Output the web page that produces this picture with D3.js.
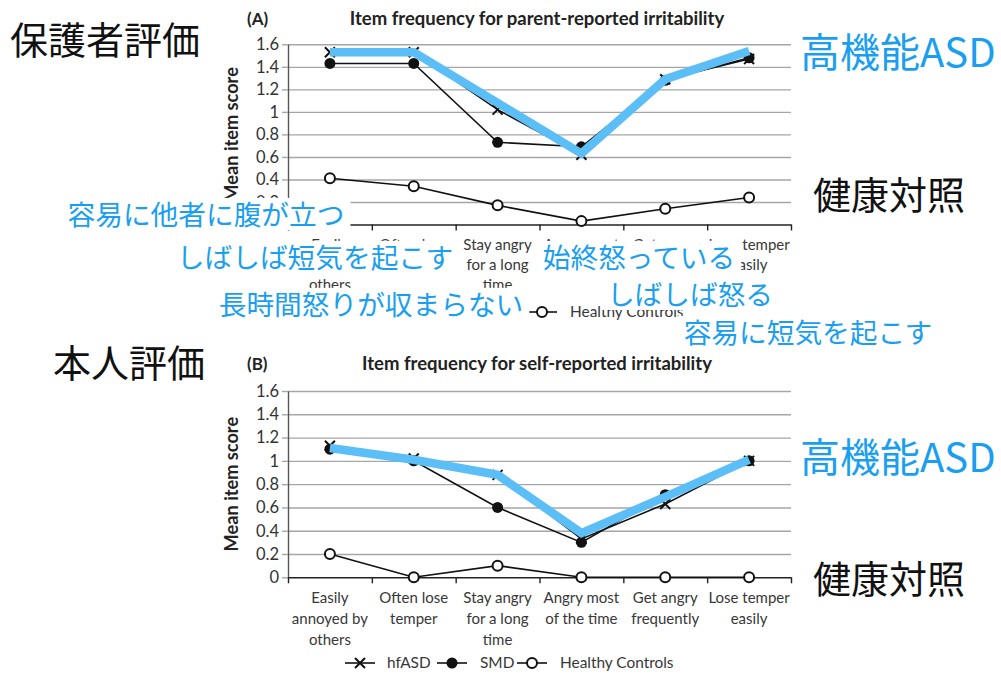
<!DOCTYPE html>
<html>
<head>
<meta charset="utf-8">
<script src="https://cdn.jsdelivr.net/npm/d3@7"></script>
<style>
  html, body { margin: 0; padding: 0; background: #fff; }
  svg { display: block; }
</style>
</head>
<body>
<svg id="chart" width="1001" height="673"></svg>
<script>
// ---- data ----------------------------------------------------------------
const categoryLines = [
  ["Easily", "annoyed by", "others"],
  ["Often lose", "temper"],
  ["Stay angry", "for a long", "time"],
  ["Angry most", "of the time"],
  ["Get angry", "frequently"],
  ["Lose temper", "easily"]
];
const yTickValues = [0, 0.2, 0.4, 0.6, 0.8, 1, 1.2, 1.4, 1.6];
const seriesNames = ["hfASD", "SMD", "Healthy Controls"];

// (A) parent-reported
const parentHfASD   = [1.53, 1.53, 1.02, 0.62, 1.29, 1.47];
const parentSMD     = [1.43, 1.43, 0.73, 0.69, 1.28, 1.48];
const parentHealthy = [0.41, 0.34, 0.17, 0.03, 0.14, 0.24];
const parentHighlight = [1.53, 1.53, null, 0.63, 1.29, 1.54];

// (B) self-reported
const selfHfASD   = [1.13, 1.02, 0.88, 0.33, 0.63, 1.00];
const selfSMD     = [1.10, 1.00, 0.60, 0.30, 0.71, 1.00];
const selfHealthy = [0.20, 0.00, 0.10, 0.00, 0.00, 0.00];
const selfHighlight = [1.11, 1.01, 0.88, 0.38, 0.69, 1.01];

// Japanese annotation texts
const panelHeadings = ["保護者評価", "本人評価"];
const groupLabels = ["高機能ASD", "健康対照"];
const itemNotes = [
  "容易に他者に腹が立つ",
  "しばしば短気を起こす",
  "長時間怒りが収まらない",
  "始終怒っている",
  "しばしば怒る",
  "容易に短気を起こす"
];

// ---- layout ----------------------------------------------------------------
const FONT = "Lato, 'Open Sans', 'Liberation Sans', sans-serif";
const JP = "'Noto Sans CJK JP', 'Noto Sans', sans-serif";
const BLUE_LINE = "#5bbef7";
const BLUE_TEXT = "#1a9ff0";
const X0 = 288, X1 = 791;
// legend: swatch start and text start of each item, relative to the legend origin
const legendSwatchX = [0, 92, 172];
const legendTextX = [42, 135, 215];

const panels = [
  {
    letter: "(A)", title: "Item frequency for parent-reported irritability",
    series: [parentHfASD, parentSMD, parentHealthy], highlight: parentHighlight,
    yTop: 44.3, yBottom: 224.5, titleY: 24.5, labelY: 250, lineH: 20,
    legendY: 317, legendX: 355
  },
  {
    letter: "(B)", title: "Item frequency for self-reported irritability",
    series: [selfHfASD, selfSMD, selfHealthy], highlight: selfHighlight,
    yTop: 391, yBottom: 577.3, titleY: 370, labelY: 603, lineH: 21,
    legendY: 668, legendX: 345
  }
];

const svg = d3.select("#chart");
const x = d3.scaleBand().domain(d3.range(categoryLines.length)).range([X0, X1]);
const xEdge = d3.scaleLinear().domain([0, categoryLines.length]).range([X0, X1]);
const cx = i => x(i) + x.bandwidth() / 2;
const fmt = d => String(+d.toFixed(1));

function drawMarker(g, kind, mx, my) {
  if (kind === 0) {
    g.append("path")
      .attr("d", `M${mx - 5},${my - 5}L${mx + 5},${my + 5}M${mx - 5},${my + 5}L${mx + 5},${my - 5}`)
      .attr("stroke", "#111").attr("stroke-width", 2).attr("fill", "none");
  } else if (kind === 1) {
    g.append("circle").attr("cx", mx).attr("cy", my).attr("r", 5.5).attr("fill", "#111");
  } else {
    g.append("circle").attr("cx", mx).attr("cy", my).attr("r", 5)
      .attr("fill", "#fff").attr("stroke", "#111").attr("stroke-width", 2);
  }
}

panels.forEach(p => {
  const g = svg.append("g");
  const y = d3.scaleLinear().domain([0, 1.6]).range([p.yBottom, p.yTop]);

  // horizontal gridlines
  g.append("g")
    .attr("transform", `translate(${X0},0)`)
    .call(d3.axisLeft(y).tickValues(yTickValues.filter(v => v > 0))
      .tickSize(-(X1 - X0)).tickFormat(""))
    .call(a => a.select(".domain").remove())
    .call(a => a.selectAll("line").attr("stroke", "#a6a6a6").attr("stroke-width", 1.4));

  // y axis
  g.append("g")
    .attr("transform", `translate(${X0},0)`)
    .call(d3.axisLeft(y).tickValues(yTickValues).tickSize(6).tickSizeOuter(0).tickPadding(3).tickFormat(fmt))
    .call(a => a.select(".domain").attr("stroke", "#555").attr("stroke-width", 1.4))
    .call(a => a.selectAll("line").attr("stroke", "#a6a6a6").attr("stroke-width", 1.4))
    .call(a => a.selectAll("text").attr("font-family", FONT).attr("font-size", 16.5).attr("fill", "#333"));

  // x axis with ticks at category boundaries
  g.append("g")
    .attr("transform", `translate(0,${p.yBottom})`)
    .call(d3.axisBottom(xEdge).tickValues(d3.range(categoryLines.length + 1))
      .tickSize(6).tickSizeOuter(0).tickFormat(""))
    .call(a => a.select(".domain").attr("stroke", "#222").attr("stroke-width", 1.6))
    .call(a => a.selectAll("line").attr("stroke", "#222").attr("stroke-width", 1.4));

  // category labels
  const labels = g.append("g").attr("font-family", FONT).attr("font-size", 15)
    .attr("fill", "#383838").attr("text-anchor", "middle");
  categoryLines.forEach((lines, i) => {
    const t = labels.append("text").attr("x", cx(i)).attr("y", p.labelY);
    lines.forEach((ln, k) => t.append("tspan")
      .attr("x", cx(i)).attr("dy", k === 0 ? 0 : p.lineH).text(ln));
  });

  // series lines, then markers (controls at the back)
  const line = d3.line().x((d, i) => cx(i)).y(d => y(d));
  p.series.forEach(vals => {
    g.append("path").datum(vals).attr("d", line)
      .attr("fill", "none").attr("stroke", "#111").attr("stroke-width", 1.6);
  });
  [2, 1, 0].forEach(s => p.series[s].forEach((v, i) => drawMarker(g, s, cx(i), y(v))));

  // highlighted hfASD trace
  const hl = p.highlight.map((v, i) => [i, v]).filter(d => d[1] != null);
  g.append("path").datum(hl)
    .attr("d", d3.line().x(d => cx(d[0])).y(d => y(d[1])))
    .attr("fill", "none").attr("stroke", BLUE_LINE).attr("stroke-width", 8.5)
    .attr("stroke-linejoin", "miter");

  // legend
  const lg = g.append("g").attr("font-family", FONT).attr("font-size", 15.4).attr("fill", "#383838");
  seriesNames.forEach((name, s) => {
    const lx = p.legendX + legendSwatchX[s];
    lg.append("line").attr("x1", lx).attr("x2", lx + 30)
      .attr("y1", p.legendY - 5).attr("y2", p.legendY - 5)
      .attr("stroke", "#111").attr("stroke-width", 1.6);
    drawMarker(lg, s, lx + 15, p.legendY - 5);
    lg.append("text").attr("x", p.legendX + legendTextX[s]).attr("y", p.legendY).text(name);
  });

  // title, panel letter, y label
  g.append("text").attr("x", 247).attr("y", p.titleY)
    .attr("font-family", FONT).attr("font-weight", 700).attr("font-size", 17)
    .attr("fill", "#222").text(p.letter);
  g.append("text").attr("x", 537).attr("y", p.titleY).attr("text-anchor", "middle")
    .attr("font-family", FONT).attr("font-weight", 700).attr("font-size", 18.5)
    .attr("fill", "#222").text(p.title);
  g.append("text")
    .attr("transform", `translate(238,${(p.yTop + p.yBottom) / 2}) rotate(-90)`)
    .attr("text-anchor", "middle")
    .attr("font-family", FONT).attr("font-weight", 700).attr("font-size", 18.2)
    .attr("fill", "#222").text("Mean item score");
});

// ---- annotations -----------------------------------------------------------
const notesLayer = svg.append("g");
function note(text, xPos, baseline, size, color, boxed, anchor) {
  const grp = notesLayer.append("g");
  const rect = grp.append("rect").attr("fill", "#fff");
  const t = grp.append("text").attr("x", xPos).attr("y", baseline)
    .attr("text-anchor", anchor || "start")
    .attr("font-family", JP).attr("font-size", size).attr("fill", color).text(text);
  if (boxed) {
    const b = t.node().getBBox();
    rect.attr("x", b.x - 6).attr("y", baseline - 0.98 * size)
      .attr("width", b.width + 12).attr("height", 1.16 * size);
  } else {
    rect.remove();
  }
}

// item translations over panel (A): centre x, baseline
const notePos = [[206, 225], [315, 268], [371, 315], [639, 268], [690, 305], [808, 343]];
itemNotes.forEach((txt, i) => note(txt, notePos[i][0], notePos[i][1], 27.7, BLUE_TEXT, true, "middle"));

// panel headings and group labels
note(panelHeadings[0], 10, 54, 38, "#111", false);
note(panelHeadings[1], 53, 377, 38, "#111", false);
note(groupLabels[0], 800, 67, 40, BLUE_TEXT, false);
note(groupLabels[1], 813, 209, 38, "#111", false);
note(groupLabels[0], 800, 472, 40, BLUE_TEXT, false);
note(groupLabels[1], 813, 593, 38, "#111", false);
</script>
</body>
</html>
